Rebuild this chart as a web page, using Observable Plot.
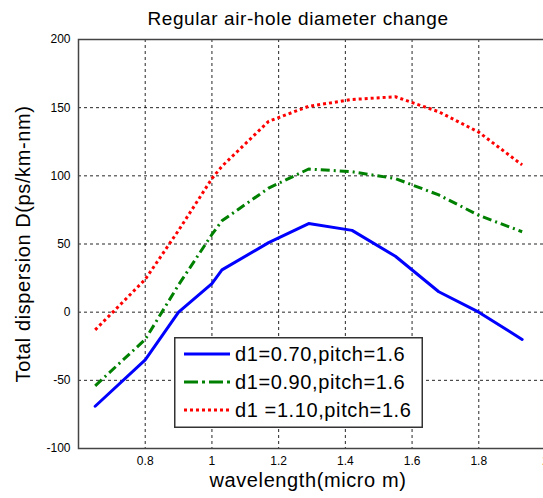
<!DOCTYPE html>
<html><head><meta charset="utf-8">
<script src="https://cdn.jsdelivr.net/npm/d3@7"></script>
<script src="https://cdn.jsdelivr.net/npm/@observablehq/plot@0.6"></script>
<style>
body{margin:0;background:#fff;}
#wrap{position:relative;width:543px;height:498px;overflow:hidden;font-family:"Liberation Sans",Arial,sans-serif;}
#legend{position:absolute;left:174px;top:337px;}
</style></head><body><div id="wrap"></div>
<script>
const wavelength = [0.65, 0.8, 0.9, 1.0, 1.03, 1.17, 1.29, 1.42, 1.55, 1.68, 1.8, 1.93];
const d070 = [-69, -35, 0, 21, 31, 51, 65, 60, 41, 15, 0, -20];
const d090 = [-54, -20, 20, 57, 67, 91, 105, 103, 98, 86, 71, 59];
const d110 = [-13, 24, 60, 98, 107, 140, 151, 156, 158, 147, 132, 108];
const seriesNames = ["d1=0.70,pitch=1.6", "d1=0.90,pitch=1.6", "d1 =1.10,pitch=1.6"];
const seriesValues = [d070, d090, d110];
const seriesColors = ["#0000ff", "#008000", "#ff0000"];
const seriesDash = [null, "9,4,2,4", "3,3"];
const xTicks = [0.8, 1, 1.2, 1.4, 1.6, 1.8, 2];
const yTicks = [-100, -50, 0, 50, 100, 150, 200];
const titleText = "Regular air-hole diameter change";
const xLabel = "wavelength(micro m)";
const yLabel = "Total dispersion D(ps/km-nm)";

const rows = seriesNames.flatMap((s, i) => wavelength.map((w, j) => ({series: s, w, D: seriesValues[i][j]})));

const lineMarks = seriesNames.map((s, i) => Plot.line(rows.filter(r => r.series === s), {
  x: "w", y: "D", stroke: seriesColors[i], strokeWidth: 3,
  strokeDasharray: seriesDash[i] || undefined, strokeLinejoin: "round", strokeLinecap: i === 0 ? "round" : "butt"
}));

const chart = Plot.plot({
  width: 543, height: 498,
  marginLeft: 78, marginRight: -2, marginTop: 39, marginBottom: 50,
  x: {domain: [0.6, 2.0]},
  y: {domain: [-100, 200]},
  style: {fontFamily: "'Liberation Sans', Arial, sans-serif", fontSize: "12px", color: "#000", background: "#fff"},
  marks: [
    Plot.gridX(xTicks, {stroke: "#000", strokeOpacity: 0.85, strokeDasharray: "3,3"}),
    Plot.gridY(yTicks, {stroke: "#000", strokeOpacity: 0.85, strokeDasharray: "3,3"}),
    Plot.frame({stroke: "#444", strokeWidth: 1.5}),
    Plot.axisX(xTicks, {tickSize: 0, tickPadding: 8, label: null, tickFormat: d => String(d)}),
    Plot.axisY(yTicks, {tickSize: 0, tickPadding: 8, label: null, tickFormat: d => String(d)}),
    ...lineMarks,
    Plot.text([titleText], {text: d => d, frameAnchor: "top", lineAnchor: "middle", dy: -21, dx: -14, fontSize: 19}),
    Plot.text([xLabel], {text: d => d, frameAnchor: "bottom", lineAnchor: "middle", dy: 32, dx: -4, fontSize: 20}),
    Plot.text([yLabel], {text: d => d, frameAnchor: "left", textAnchor: "middle", lineAnchor: "middle", rotate: -90, dx: -55, fontSize: 20})
  ]
});
d3.select(chart).selectAll("text").filter(function() {
  const t = this.textContent; return t === titleText || t === xLabel || t === yLabel;
}).attr("letter-spacing", "0.6px");
const wrap = document.getElementById("wrap");
wrap.appendChild(chart);

// legend
const lw = 249, lh = 91;
const leg = d3.create("svg").attr("id", "legend").attr("width", lw).attr("height", lh);
leg.append("rect").attr("x", 0.75).attr("y", 0.75).attr("width", lw - 1.5).attr("height", lh - 1.5)
  .attr("fill", "#fff").attr("stroke", "#333").attr("stroke-width", 1.5);
seriesNames.forEach((s, i) => {
  const cy = 17 + i * 28;
  leg.append("line").attr("x1", 10).attr("x2", 56).attr("y1", cy).attr("y2", cy)
    .attr("stroke", seriesColors[i]).attr("stroke-width", 3)
    .attr("stroke-dasharray", i === 1 ? "14,4,3,4" : seriesDash[i]);
  leg.append("text").attr("x", 61).attr("y", cy).attr("dy", "0.35em")
    .attr("font-family", "'Liberation Sans', Arial, sans-serif").attr("font-size", 20)
    .attr("letter-spacing", "0.6px").text(s);
});
wrap.appendChild(leg.node());
</script></body></html>
